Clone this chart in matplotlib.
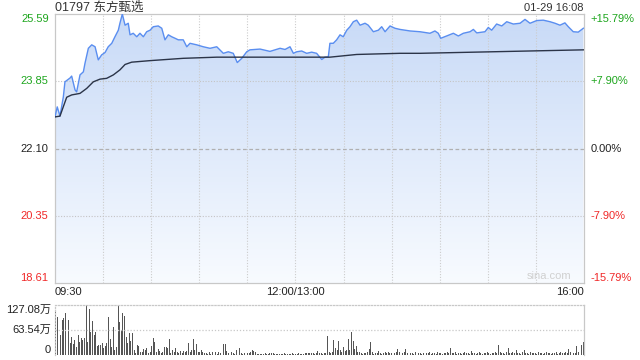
import numpy as np
import matplotlib
matplotlib.use("Agg")
import matplotlib.pyplot as plt
from matplotlib.colors import LinearSegmentedColormap
from matplotlib.patches import Polygon

plt.rcParams['font.family'] = ['Liberation Sans', 'Noto Sans CJK SC']

# 价格走势 (分钟, 价格)，0 = 09:30，150 = 12:00/13:00，330 = 16:00
price_t = [0, 1.4, 3.1, 5.2, 6.2, 9.4, 10.4, 12.5, 13.5, 15.6, 17.7, 18.7, 20.8, 22.9, 25,
           27, 29.1, 31.2, 33.2, 35.4, 37.4, 39.5, 40.5, 42, 43.7, 45.7, 46.8, 48.8, 51,
           53, 55.1, 57.2, 59.3, 61.3, 64.4, 66.6, 68.6, 70.7, 72.8, 74.9, 76.9, 80, 82.2,
           84.2, 88.4, 92.5, 96.7, 100.9, 105, 108.1, 111.2, 113.7, 116.5, 119.6, 121.6,
           127.9, 134.1, 140.4, 143.5, 146.6, 148.7, 150.8, 153.9, 157, 160.1, 163.2, 166.4,
           168.4, 170.5, 171.5, 173.6, 175.7, 177.8, 179.8, 182, 184, 186.1, 188.2, 190.3,
           193.4, 195.4, 198.6, 201.7, 203.8, 205.9, 209, 212.1, 215.2, 221.5, 227.7, 233.9,
           237, 239.1, 240.6, 244.3, 248.5, 251.6, 254.7, 258.9, 261, 263.1, 268.2, 270.3,
           272.4, 275.5, 278.7, 281.8, 285.9, 290.1, 293.2, 296.3, 300.5, 304.6, 308.8,
           311.9, 315, 318.1, 320.2, 323.3, 326.4, 329.6]
price_v = [22.92, 23.18, 22.94, 23.44, 23.83, 23.93, 23.98, 23.62, 23.57, 24.01, 24.09, 24.31,
           24.70, 24.79, 24.74, 24.40, 24.53, 24.59, 24.74, 24.83, 25.00, 25.17, 25.35, 25.59,
           25.30, 25.35, 25.05, 25.09, 25.00, 25.09, 25.00, 25.13, 25.17, 25.26, 25.28, 25.22,
           24.92, 25.05, 25.00, 24.96, 24.92, 24.92, 24.74, 24.83, 24.79, 24.74, 24.70, 24.74,
           24.57, 24.61, 24.57, 24.33, 24.44, 24.61, 24.66, 24.68, 24.62, 24.70, 24.67, 24.74,
           24.57, 24.61, 24.63, 24.57, 24.60, 24.57, 24.41, 24.47, 24.48, 24.83, 24.83, 24.92,
           25.05, 25.00, 25.17, 25.26, 25.39, 25.43, 25.30, 25.35, 25.30, 25.13, 25.17, 25.26,
           25.13, 25.28, 25.22, 25.19, 25.15, 25.13, 25.09, 25.15, 25.09, 24.96, 25.02, 25.09,
           25.02, 25.09, 25.13, 25.19, 25.10, 25.13, 25.24, 25.17, 25.33, 25.28, 25.39, 25.33,
           25.35, 25.45, 25.35, 25.42, 25.43, 25.39, 25.35, 25.30, 25.36, 25.26, 25.13, 25.12,
           25.22]

# 均价线
avg_t = [0, 3.1, 7.3, 10.4, 15.6, 19.8, 23.9, 28.1, 32.2, 36.4, 40.5, 43.7, 47.8, 59.3, 80,
         100.9, 121.6, 140.4, 171.5, 188.2, 215.2, 227.7, 329.6]
avg_v = [22.92, 22.94, 23.43, 23.49, 23.53, 23.66, 23.83, 23.90, 23.92, 24.01, 24.14, 24.28,
         24.34, 24.38, 24.44, 24.47, 24.47, 24.47, 24.47, 24.54, 24.57, 24.57, 24.66]

# 成交量 (万股)，每分钟一根
vol_am = [110, 97, 40, 51, 89, 93, 108, 72, 89, 30, 47, 28, 38, 21, 51, 34, 42, 38, 42, 127,
          34, 116, 59, 87, 51, 59, 23, 25, 25, 30, 17, 23, 30, 97, 40, 21, 72, 13, 21, 127,
          85, 64, 106, 99, 47, 31, 55, 36, 55, 13, 4, 25, 23, 8, 8, 14, 13, 17, 6, 8,
          23, 42, 34, 8, 14, 11, 4, 8, 21, 21, 17, 40, 4, 13, 8, 17, 8, 6, 11, 6,
          10, 8, 11, 30, 8, 13, 40, 13, 28, 8, 8, 13, 8, 4, 6, 3, 8, 3, 8, 4,
          8, 3, 8, 6, 3, 27, 27, 10, 4, 4, 8, 4,
          3, 13, 25, 17, 4, 3, 4, 8, 4, 6, 8, 13, 11, 8, 3, 3, 3, 3, 3, 6, 3, 3, 4, 6, 6, 3, 3,
          2, 3, 2, 3, 4, 2, 3, 3]
vol_pm = [2, 4, 3, 2, 3, 4, 3, 2, 3,
          4, 4, 6, 4, 6, 4, 3, 4, 11, 6, 6, 3, 4, 4, 48, 8, 4, 8, 38, 19,
          13, 36, 13, 8, 21, 11, 13, 40, 13, 59, 36, 14, 23, 8, 8, 4, 3, 6, 6, 8,
          14, 32, 8, 3, 6, 4, 11, 4, 3, 6, 8, 6, 8, 6, 4, 8, 4, 8, 14, 8, 4, 6, 8,
          14, 6, 8, 4, 6, 3, 8, 11, 4, 6, 3, 6, 8, 4, 6, 8, 3, 4, 6, 3,
          8, 4, 6, 3, 4, 6, 8, 4, 17, 6, 4, 8, 3, 6, 4, 3, 6, 8, 4, 6,
          3, 11, 6, 4, 3, 6, 8, 4, 3, 6, 4, 8, 6, 3, 4, 6, 8, 4, 25, 8,
          4, 6, 3, 8, 17, 6, 4, 8, 6, 13, 4, 6, 3, 8, 13, 6, 4, 3, 8, 6,
          4, 6, 3, 8, 4, 6, 3, 4, 8, 6, 4, 3, 6, 4, 8, 3, 6, 8, 4, 6,
          8, 6, 15, 8, 11, 6, 6, 23, 8, 17, 25, 33]

prev_close = 22.10
price_ticks = [18.61, 20.35, 22.10, 23.85, 25.59]
price_labels = ['18.61', '20.35', '22.10', '23.85', '25.59']
pct_labels = ['-15.79%', '-7.90%', '0.00%', '+7.90%', '+15.79%']
tick_colors = ['#f02828', '#f02828', '#222222', '#1ea61e', '#1ea61e']
vol_ticks = [0, 63.54, 127.08]
vol_labels = ['0', '63.54万', '127.08万']
time_pos = [0, 150, 330]
time_labels = ['09:30', '12:00/13:00', '16:00']

W, H = 640, 360
fig = plt.figure(figsize=(6.4, 3.6), dpi=100)
ax = fig.add_axes([55 / W, 1 - 283 / H, 529 / W, 269 / H])
vax = fig.add_axes([55 / W, 1 - 355 / H, 529 / W, 50 / H])

lo, hi = price_ticks[0], price_ticks[-1]
ax.set_xlim(0, 330)
ax.set_ylim(lo, hi)

# 渐变填充
cmap = LinearSegmentedColormap.from_list('fill', ['#f8fbff', '#c8daf7'])
grad = np.linspace(0, 1, 256).reshape(-1, 1)
im = ax.imshow(grad, extent=[0, 330, lo, hi], origin='lower', aspect='auto', cmap=cmap, zorder=1)
verts = [(price_t[0], lo)] + list(zip(price_t, price_v)) + [(price_t[-1], lo)]
poly = Polygon(verts, closed=True, facecolor='none', edgecolor='none')
ax.add_patch(poly)
im.set_clip_path(poly)

# 网格
for x in range(30, 330, 30):
    ax.axvline(x, color='#cccccc', lw=0.8, ls=(0, (1, 1.5)), zorder=2)
for y in [20.35, 23.85]:
    ax.axhline(y, color='#c4c4c4', lw=0.8, ls=(0, (1, 1.5)), zorder=2)
ax.axhline(prev_close, color='#b0b0b0', lw=0.9, ls=(0, (3, 2)), zorder=2)

ax.plot(price_t, price_v, color='#5a8ef0', lw=1.0, zorder=4)
ax.plot(avg_t, avg_v, color='#2b3448', lw=1.0, zorder=5)

for s in ax.spines.values():
    s.set_color('#c8c8c8')
    s.set_linewidth(0.9)
ax.set_xticks([])
ax.set_yticks([])


def edge_va(v, vmin, vmax):
    if v == vmax:
        return 'top'
    if v == vmin:
        return 'bottom'
    return 'center'


for p, lab, pl, c in zip(price_ticks, price_labels, pct_labels, tick_colors):
    va = edge_va(p, lo, hi)
    ax.text(-4, p, lab, ha='right', va=va, color=c, fontsize=8, clip_on=False)
    ax.text(334, p, pl, ha='left', va=va, color=c, fontsize=8, clip_on=False)

for x, lab in zip(time_pos, time_labels):
    ha = 'left' if x == 0 else ('right' if x == 330 else 'center')
    ax.text(x, lo - 0.1, lab, ha=ha, va='top', fontsize=8, color='#222222', clip_on=False)

ax.text(308, lo + 0.05, 'sina.com', ha='center', va='bottom', fontsize=8, color='#d0d0d0', zorder=6)

fig.text(55 / W, 1 - 8 / H, '01797 东方甄选', ha='left', va='center', fontsize=9, color='#333333')
fig.text(584 / W, 1 - 8 / H, '01-29 16:08', ha='right', va='center', fontsize=8, color='#333333')

# 成交量
vol = vol_am + vol_pm
vax.bar(np.arange(len(vol)), vol, width=0.6, color='#555555', linewidth=0)
vax.set_xlim(-0.5, 330.5)
vax.set_ylim(0, 127.08)
vax.axhline(63.54, color='#c8c8c8', lw=0.9, ls=(0, (1, 1.5)))
vax.spines['top'].set_linestyle((0, (1, 1.5)))
vax.spines['left'].set_linestyle((0, (1, 1.5)))
vax.spines['bottom'].set_visible(False)
for s in vax.spines.values():
    s.set_color('#c8c8c8')
    s.set_linewidth(0.9)
vax.set_xticks([])
vax.set_yticks([])
for v, lab in zip(vol_ticks, vol_labels):
    va = edge_va(v, 0, 127.08)
    vax.text(-3, v, lab, ha='right', va=va, fontsize=8, color='#222222', clip_on=False)

fig.savefig('out.png', dpi=100)
